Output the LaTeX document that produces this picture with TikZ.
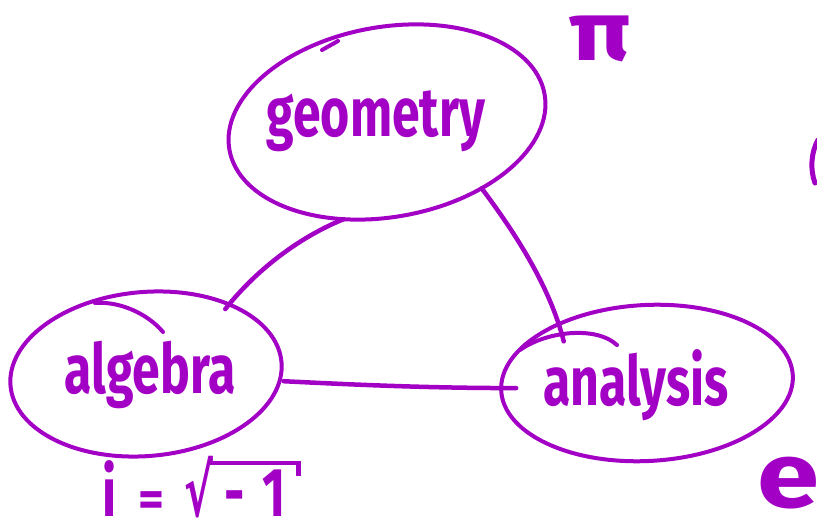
\documentclass[tikz,border=0pt]{standalone}
\usepackage{fontspec}
\setmainfont{Fira Sans}
\newfontfamily\symfont{DejaVu Sans}
\usetikzlibrary{shapes.geometric}
\definecolor{ink}{RGB}{162,0,196}
\newcommand{\tall}[1]{\scalebox{1}[1.38]{#1}}
\begin{document}
\begin{tikzpicture}[x=1pt, y=-1pt,
  bubble/.style={ellipse, draw=ink, line width=4pt, inner sep=0pt, outer sep=0pt},
  word/.style={text=ink, inner sep=0pt, anchor=base, font=\fontsize{50}{50}\selectfont\bfseries},
  link/.style={draw=ink, line width=4.5pt, line cap=round},
  stroke/.style={draw=ink, line width=4pt, line cap=round}]
\useasboundingbox (0,0) rectangle (817,532);
\clip (0,0) rectangle (817,532);

% the three subject bubbles
\node[bubble, rotate=10, minimum width=320, minimum height=190] (geo) at (387,122) {};
\node[word] (geolbl) at (376,137) {\tall{geometry}};

\node[bubble, rotate=5, minimum width=272, minimum height=164] (alg) at (146,374) {};
\node[word] (alglbl) at (150,393) {\tall{algebra}};

\node[bubble, rotate=3, minimum width=292, minimum height=156] (ana) at (647,383) {};
\node[word] (analbl) at (636,405) {\tall{analysis}};

% loose ends where each loop was closed by hand
\draw[stroke] (322,50) -- (338,41);
\draw[stroke] (95,303) .. controls (120,301) and (148,314) .. (163,332);
\draw[stroke] (520,350) .. controls (545,332) and (595,325) .. (617,345);

% connections between the subjects
\draw[link, shorten >=-6pt] (geo.236) .. controls +(-40,16) and +(30,-38) .. (alg.35);
\draw[link, shorten >=-18pt] (geo.315) .. controls +(30,40) and +(-10,-40) .. (ana.143);
\draw[link, shorten <=4pt, shorten >=-15pt] (alg.-8) .. controls +(80,4) and +(-70,0) .. (ana.179);

% constants attached to each subject
\node[word, font=\fontsize{84}{84}\selectfont\bfseries] (piconst) at (600,61) {\scalebox{1.2}[1]{π}};
\node[word] (iconst) at (194,516) {\tall{i}\hspace{22pt}=\hspace{20pt}{\symfont\fontsize{72}{72}\selectfont\scalebox{0.6}[1]{√}}\kern-3pt\rlap{\raisebox{51pt}{\rule{86pt}{4.5pt}}\raisebox{40pt}{\rule{4.5pt}{15.5pt}}}\hspace{14pt}\tall{-}\hspace{18pt}\tall{1}};
\node[word, font=\fontsize{92}{92}\selectfont\bfseries] (econst) at (788,507) {\scalebox{1.22}[1]{e}};

% stroke cut off by the right edge
\draw[stroke, line width=5pt] (818,140) .. controls (811,152) and (810,170) .. (815,183);
\end{tikzpicture}
\end{document}
